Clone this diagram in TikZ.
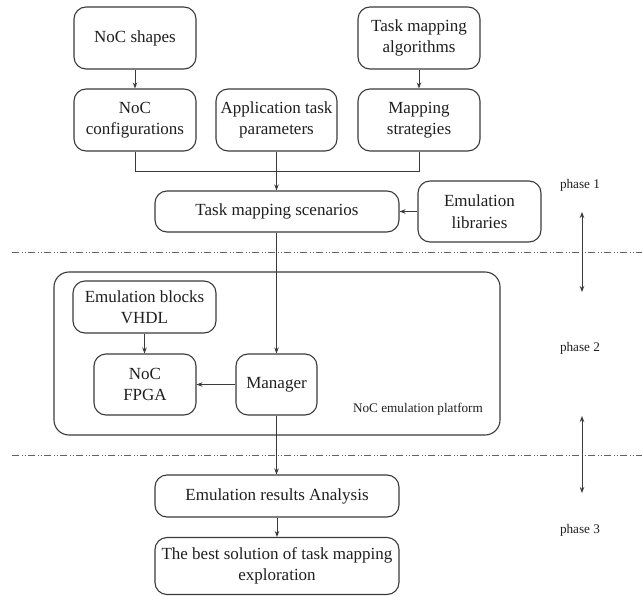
\documentclass[tikz,border=0pt]{standalone}
\usepackage{fontspec}
\setmainfont{Liberation Serif}
\usetikzlibrary{arrows.meta}
\definecolor{edge}{HTML}{3A3A3A}
\definecolor{txt}{HTML}{1E1E1E}
\begin{document}
\begin{tikzpicture}[x=1pt,y=-1pt,
  box/.style={draw=edge, line width=1.1pt, rounded corners=12pt, align=center,
    text=txt, font=\fontsize{17}{21.5}\selectfont, inner sep=0pt},
  conn/.style={draw=edge, line width=0.9pt},
  arr/.style={conn, -{Stealth[length=6pt,width=4.5pt]}},
  darr/.style={conn, {Stealth[length=6pt,width=4.5pt]}-{Stealth[length=6pt,width=4.5pt]}},
  sep/.style={draw=edge!80, line width=0.9pt, dash pattern=on 7pt off 2.5pt on 1pt off 2pt on 1pt off 2.5pt},
  small/.style={text=txt, font=\fontsize{13.2}{15}\selectfont, inner sep=0pt}]
\useasboundingbox (0,0) rectangle (642,596);

% platform
\node[draw=edge, line width=1.1pt, rounded corners=15pt, minimum width=446pt, minimum height=163pt, inner sep=0pt] (plat) at (277,353.5) {};
\node[small] (platlbl) at (418,409) {NoC emulation platform};

% separators
\coordinate (s1a) at (12,252); \coordinate (s1b) at (642,252);
\coordinate (s2a) at (12,455); \coordinate (s2b) at (642,455);
\draw[sep] (s1a) -- (s1b);
\draw[sep] (s2a) -- (s2b);

% boxes
\node[box, minimum width=122pt, minimum height=62pt] (shapes) at (135,38) {NoC shapes};
\node[box, minimum width=122pt, minimum height=62pt] (algo) at (419,38) {Task mapping\\algorithms};
\node[box, minimum width=122pt, minimum height=62pt] (conf) at (135,120) {NoC\\configurations};
\node[box, minimum width=121pt, minimum height=62pt] (app) at (276.5,120) {Application task\\parameters};
\node[box, minimum width=122pt, minimum height=62pt] (strat) at (419,120) {Mapping\\strategies};
\node[box, minimum width=244pt, minimum height=41pt] (scen) at (277,211.5) {Task mapping scenarios};
\node[box, minimum width=123pt, minimum height=61pt] (lib) at (479.5,211.5) {Emulation\\libraries};
\node[box, minimum width=143pt, minimum height=52pt] (blocks) at (144.5,307) {Emulation blocks\\VHDL};
\node[box, minimum width=102pt, minimum height=61pt] (fpga) at (145,384.5) {NoC\\FPGA};
\node[box, minimum width=81pt, minimum height=61pt] (mgr) at (276.5,384.5) {Manager};
\node[box, minimum width=244pt, minimum height=42pt] (ana) at (277,496) {Emulation results Analysis};
\node[box, minimum width=244pt, minimum height=57pt] (best) at (277,566) {The best solution of task mapping\\exploration};

% connectors
\draw[arr] (shapes) -- (conf);
\draw[arr] (algo) -- (strat);
\draw[conn] (conf.south) -- ++(0,20) -| (strat.south);
\draw[arr] (app.south) -- (app.south |- scen.north);
\draw[arr] (lib.west) -- (scen.east);
\draw[arr] (scen.south -| mgr.north) -- (mgr.north);
\draw[arr] (blocks.south) -- (blocks.south |- fpga.north);
\draw[arr] (mgr.west) -- (fpga.east);
\draw[arr] (mgr.south) -- (mgr.south |- ana.north);
\draw[arr] (ana.south) -- (ana.south |- best.north);

% phases
\node[small] (p1) at (580,185) {phase 1};
\node[small] (p2) at (580,348) {phase 2};
\node[small] (p3) at (580,530) {phase 3};
\coordinate (d1a) at (582,212); \coordinate (d1b) at (582,292);
\coordinate (d2a) at (582,416); \coordinate (d2b) at (582,493);
\draw[darr] (d1a) -- (d1b);
\draw[darr] (d2a) -- (d2b);
\end{tikzpicture}
\end{document}
